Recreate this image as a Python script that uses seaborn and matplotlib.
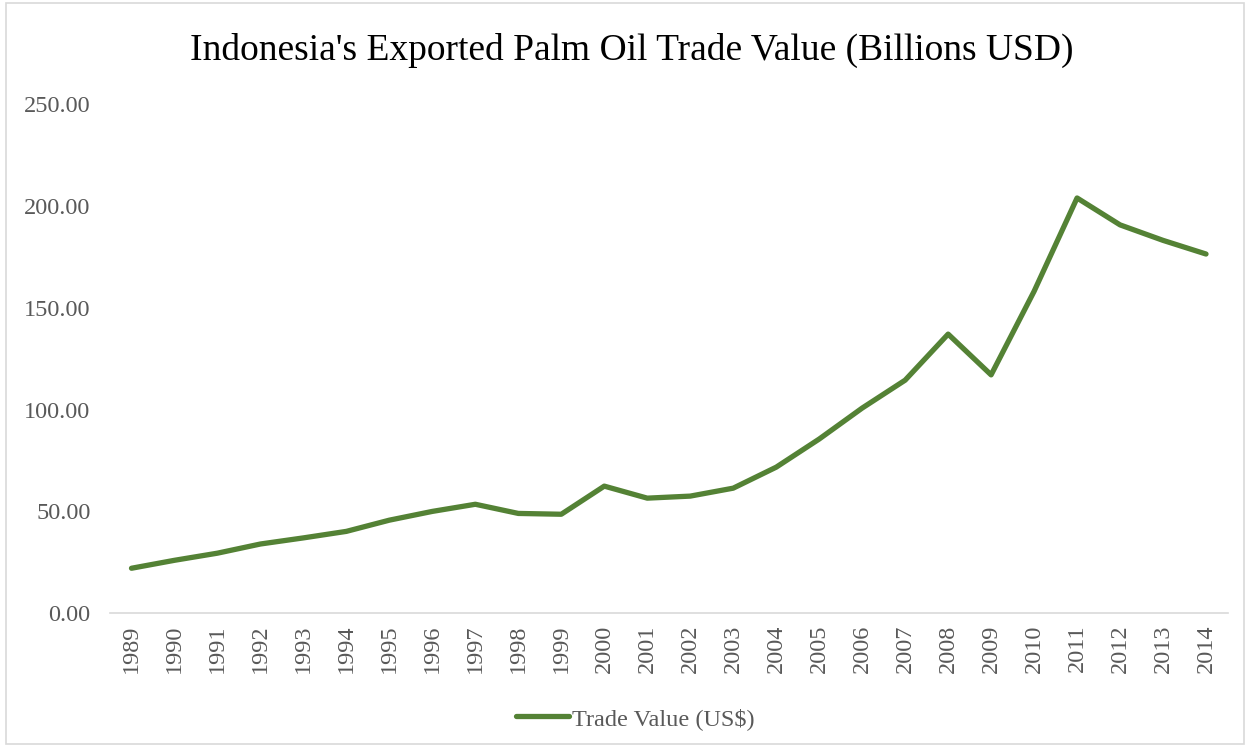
import pandas as pd
import matplotlib.pyplot as plt
import seaborn as sns
from matplotlib.patches import Rectangle

years = [str(y) for y in range(1989, 2015)]
trade_value = [22.1, 26.0, 29.5, 34.0, 37.0, 40.2, 45.7, 50.0, 53.5, 49.0, 48.6,
               62.4, 56.5, 57.5, 61.4, 71.7, 85.5, 100.7, 114.4, 137.0, 117.0,
               158.0, 203.8, 190.6, 183.0, 176.3]

df = pd.DataFrame({'Year': years, 'Trade Value (US$)': trade_value})

sns.set_style('white')
plt.rcParams['font.family'] = ['Liberation Serif', 'DejaVu Serif']

fig = plt.figure(figsize=(12.5, 7.47), dpi=100)
ax = fig.add_axes([0.088, 0.179, 0.894, 0.682])

sns.lineplot(x='Year', y='Trade Value (US$)', data=df, ax=ax, color='#548235',
             linewidth=3.8, solid_capstyle='round', label='Trade Value (US$)', sort=False)

ax.set_xlim(-0.5, len(years) - 0.5)
ax.set_ylim(0, 250)
ax.set_yticks(range(0, 251, 50))
ax.set_yticklabels([f'{v:.2f}' for v in range(0, 251, 50)])
ax.tick_params(axis='x', rotation=90, labelsize=17.5, length=0, pad=8)
ax.tick_params(axis='y', labelsize=17.5, length=0, pad=14)
for lab in ax.get_xticklabels() + ax.get_yticklabels():
    lab.set_color('#595959')
ax.set_xlabel('')
ax.set_ylabel('')
for s in ['top', 'right', 'left']:
    ax.spines[s].set_visible(False)
ax.spines['bottom'].set_color('#d9d9d9')
ax.spines['bottom'].set_linewidth(1.2)

fig.suptitle("Indonesia's Exported Palm Oil Trade Value (Billions USD)",
             x=0.505, y=0.932, va='center', fontsize=27, color='black')

leg = ax.legend(loc='center', bbox_to_anchor=(0.47, -0.207), frameon=False,
                fontsize=17.5, handlelength=2.2, handletextpad=0.1)
for t in leg.get_texts():
    t.set_color('#595959')

fig.patches.append(Rectangle((0.005, 0.004), 0.99, 0.992, transform=fig.transFigure,
                             fill=False, edgecolor='#d9d9d9', linewidth=1.2))

fig.savefig('out.png', dpi=100)
